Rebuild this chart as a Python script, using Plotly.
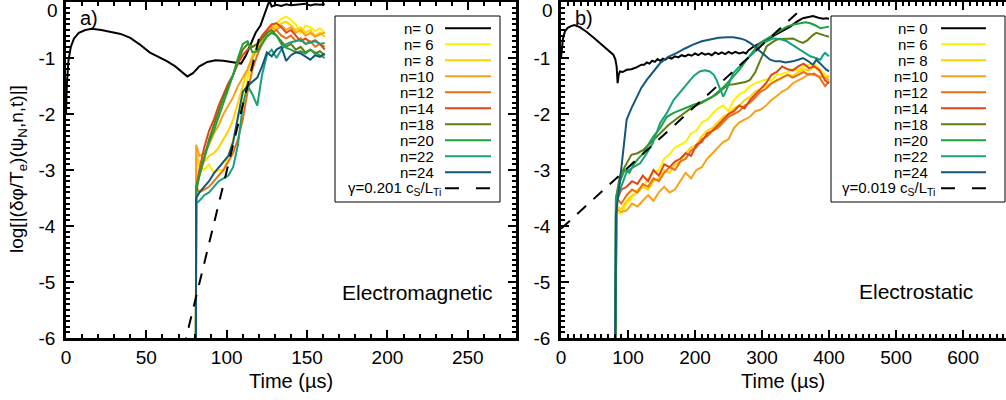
import plotly.graph_objects as go

# ---------------- data ----------------
names = ["n= 0", "n= 6", "n= 8", "n=10", "n=12", "n=14", "n=18", "n=20", "n=22", "n=24"]
colors = ["#000000", "#FFF000", "#FFD200", "#F7A21B", "#EB7012", "#E0461A",
          "#5E7E14", "#1FA23E", "#17A07C", "#14577A"]
gamma_a_label = ("γ=0.201 c<sub><span style='color:black'>S</span></sub>/L"
                 "<sub><span style='color:black'>Ti</span></sub>")
gamma_b_label = ("γ=0.019 c<sub><span style='color:black'>S</span></sub>/L"
                 "<sub><span style='color:black'>Ti</span></sub>")

# panel a (electromagnetic)
a_t_n0 = [0, 0.5, 1.5, 3, 5, 8, 12, 16, 22, 28, 34, 40, 46, 52, 58, 63, 68, 72, 75.5, 79, 83, 88,
          93, 98, 104, 109, 112, 115, 118, 121, 123, 125, 126.5, 128, 131, 134, 137, 140, 143, 146,
          149, 152, 155, 158, 161]
a_v_n0 = [-2.0, -1.5, -1.05, -0.8, -0.65, -0.55, -0.5, -0.48, -0.5, -0.53, -0.57, -0.64, -0.76,
          -0.9, -0.98, -1.06, -1.15, -1.25, -1.33, -1.27, -1.15, -1.07, -1.04, -1.05, -1.08, -1.1,
          -0.95, -0.75, -0.55, -0.42, -0.25, -0.12, 0.02, -0.08, -0.05, -0.07, -0.04, -0.06, -0.05,
          -0.05, -0.03, -0.06, -0.04, -0.05, -0.04]
a_t = [80.8, 81, 83, 86, 89, 92, 95, 98, 101, 104, 107, 110, 113, 116, 119, 122, 125, 128, 131,
       134, 137, 140, 143, 146, 149, 152, 155, 158, 161]
a_v_n6 = [-6.5, -2.85, -2.95, -3.0, -2.9, -3.05, -3.0, -3.0, -2.75, -2.45, -2.1, -1.75, -1.35,
          -1.0, -0.85, -0.7, -0.55, -0.45, -0.38, -0.3, -0.26, -0.32, -0.4, -0.55, -0.42, -0.45,
          -0.52, -0.47, -0.55]
a_v_n8 = [-6.5, -2.7, -2.9, -2.85, -2.75, -2.7, -2.6, -2.45, -2.3, -2.1, -1.8, -1.5, -1.2, -0.95,
          -0.8, -0.65, -0.5, -0.4, -0.45, -0.38, -0.35, -0.42, -0.5, -0.45, -0.55, -0.5, -0.6,
          -0.55, -0.62]
a_v_n10 = [-6.5, -2.55, -2.75, -2.7, -2.55, -2.35, -2.2, -2.0, -1.85, -1.7, -1.5, -1.35, -1.2,
           -1.0, -0.85, -0.7, -0.55, -0.45, -0.5, -0.42, -0.5, -0.45, -0.55, -0.5, -0.6, -0.55,
           -0.62, -0.58, -0.55]
a_v_n12 = [-6.5, -3.3, -3.4, -3.35, -3.3, -3.2, -3.1, -3.0, -2.85, -2.7, -2.45, -2.1, -1.6, -1.2,
           -0.95, -0.75, -0.6, -0.55, -0.5, -0.6, -0.65, -0.6, -0.7, -0.65, -0.75, -0.7, -0.8,
           -0.75, -0.8]
a_v_n14 = [-6.5, -3.3, -3.0, -2.6, -2.3, -2.1, -1.85, -1.65, -1.45, -1.3, -1.1, -0.95, -0.85,
           -0.8, -0.75, -0.6, -0.5, -0.4, -0.38, -0.45, -0.55, -0.5, -0.6, -0.7, -0.65, -0.72,
           -0.68, -0.75, -0.85]
a_v_n18 = [-6.5, -3.4, -3.1, -2.75, -2.45, -2.2, -1.95, -1.7, -1.5, -1.3, -1.05, -0.85, -0.75,
           -0.8, -0.75, -0.65, -0.55, -0.5, -0.6, -0.7, -0.8, -0.75, -0.85, -0.8, -0.9, -0.85,
           -0.92, -0.88, -0.95]
a_v_n20 = [-6.5, -3.3, -3.1, -2.8, -2.5, -2.3, -2.05, -1.8, -1.55, -1.3, -1.0, -0.75, -0.7, -0.9,
           -0.88, -0.75, -0.62, -0.55, -0.6, -0.75, -0.82, -0.85, -0.9, -0.88, -0.92, -0.85, -0.9,
           -0.95, -1.0]
a_v_n22 = [-6.5, -3.6, -3.55, -3.45, -3.4, -3.3, -3.2, -3.15, -3.1, -2.95, -2.55, -1.85, -1.5,
           -1.65, -1.85, -1.3, -0.95, -0.85, -1.0, -0.85, -0.75, -0.72, -0.7, -0.68, -0.75, -0.72,
           -0.7, -0.75, -0.73]
a_v_n24 = [-6.5, -3.5, -3.4, -3.3, -3.2, -3.06, -2.95, -2.85, -2.75, -2.5, -2.05, -1.6, -1.5,
           -1.42, -1.35, -1.15, -0.9, -0.97, -0.85, -0.8, -1.05, -0.95, -0.9, -0.92, -0.98, -1.03,
           -0.95, -0.98, -0.92]
gamma_a_t = [73.0, 120.0]
gamma_a_v = [-6.2, -0.66]

# panel b (electrostatic)
b_t_n0 = [0, 1, 3, 6, 10, 15, 20, 28, 38, 48, 58, 68, 78, 81, 83, 84.5, 86, 88, 92, 98, 105, 112,
          120, 124, 128, 132, 136, 140, 144, 148, 152, 156, 160, 165, 170, 175, 180, 185, 190, 195,
          200, 205, 210, 215, 220, 225, 230, 235, 240, 245, 250, 255, 260, 266, 272, 276, 280,
          287, 295, 305, 315, 322, 330, 342, 352, 361, 368, 376, 384, 391, 396, 400]
b_v_n0 = [-1.0, -0.85, -0.65, -0.52, -0.46, -0.43, -0.41, -0.45, -0.53, -0.63, -0.73, -0.84,
          -0.94, -1.02, -1.15, -1.45, -1.3, -1.24, -1.25, -1.21, -1.2, -1.17, -1.12, -1.12, -1.08,
          -1.1, -1.05, -1.07, -1.02, -1.05, -1.01, -1.03, -0.99, -1.01, -0.97, -0.99, -0.95,
          -0.97, -0.94, -0.96, -0.92, -0.95, -0.91, -0.94, -0.92, -0.95, -0.9, -0.93, -0.9,
          -0.93, -0.89, -0.92, -0.89, -0.92, -0.9, -0.92, -0.86, -0.8, -0.75, -0.68, -0.62, -0.58,
          -0.52, -0.44, -0.35, -0.29, -0.27, -0.25, -0.28, -0.3, -0.29, -0.3]
b_t = [80.8, 83, 90, 98, 106, 114, 122, 130, 138, 146, 154, 162, 170, 178, 186, 194, 202, 210,
       218, 226, 234, 242, 250, 258, 266, 274, 282, 290, 298, 306, 314, 322, 330, 338, 346, 354,
       362, 370, 378, 386, 394, 400]
b_v_n6 = [-6.5, -3.75, -3.78, -3.6, -3.5, -3.35, -3.3, -3.15, -3.05, -3.0, -2.8, -2.72, -2.6,
          -2.55, -2.5, -2.35, -2.3, -2.15, -2.1, -2.0, -1.9, -1.85, -1.95, -1.75, -1.65, -1.6,
          -1.5, -1.45, -1.42, -1.38, -1.4, -1.3, -1.28, -1.25, -1.2, -1.22, -1.15, -1.12, -1.1,
          -1.2, -1.3, -1.35]
b_v_n8 = [-6.5, -3.65, -3.7, -3.55, -3.45, -3.4, -3.3, -3.35, -3.2, -3.15, -3.0, -3.05, -2.9,
          -2.85, -2.7, -2.6, -2.55, -2.4, -2.3, -2.25, -2.15, -2.05, -2.0, -1.9, -1.85, -1.75,
          -1.7, -1.6, -1.55, -1.5, -1.45, -1.4, -1.35, -1.3, -1.32, -1.25, -1.2, -1.22, -1.15,
          -1.25, -1.35, -1.32]
b_v_n10 = [-6.5, -3.7, -3.75, -3.72, -3.6, -3.65, -3.55, -3.45, -3.55, -3.4, -3.3, -3.4, -3.35,
           -3.2, -3.05, -3.15, -3.0, -2.95, -2.8, -2.7, -2.6, -2.5, -2.45, -2.25, -2.15, -2.1,
           -2.05, -1.95, -1.92, -1.85, -1.75, -1.68, -1.6, -1.55, -1.45, -1.4, -1.35, -1.28, -1.3,
           -1.32, -1.35, -1.4]
b_v_n12 = [-6.5, -3.5, -3.6, -3.45, -3.35, -3.4, -3.25, -3.3, -3.15, -3.2, -3.05, -2.95, -3.0,
           -2.85, -2.8, -2.65, -2.6, -2.45, -2.4, -2.3, -2.25, -2.15, -2.05, -2.0, -1.95, -1.85,
           -1.8, -1.7, -1.6, -1.55, -1.45, -1.4, -1.35, -1.3, -1.35, -1.3, -1.25, -1.3, -1.28,
           -1.35, -1.5, -1.42]
b_v_n14 = [-6.5, -3.55, -3.35, -3.3, -3.2, -3.25, -3.1, -3.2, -3.0, -3.1, -2.9, -2.95, -2.85,
           -2.8, -2.7, -2.75, -2.55, -2.5, -2.35, -2.3, -2.2, -2.1, -2.0, -1.95, -1.85, -1.9,
           -1.75, -1.65, -1.55, -1.45, -1.3, -1.25, -1.15, -1.2, -1.22, -1.15, -1.1, -1.18, -1.15,
           -1.22, -1.4, -1.45]
b_t_n18 = [80.8, 82, 88, 95, 105, 114, 123, 135, 148, 160, 173, 185, 197, 210, 222, 232, 242,
           250, 258, 267, 275, 282, 290, 297, 302, 307, 315, 322, 330, 338, 346, 354, 361, 368,
           375, 381, 388, 394, 400]
b_v_n18 = [-6.5, -3.5, -3.1, -2.95, -2.73, -2.7, -2.64, -2.5, -2.34, -2.2, -2.08, -1.98, -1.87,
           -1.8, -1.72, -1.65, -1.55, -1.48, -1.47, -1.45, -1.43, -1.39, -1.25, -1.05, -0.92,
           -0.79, -0.72, -0.67, -0.66, -0.65, -0.65, -0.7, -0.73, -0.68, -0.6, -0.55, -0.57, -0.6,
           -0.62]
b_t_n20 = [80.8, 82, 88, 95, 102, 108, 115, 123, 130, 138, 148, 158, 168, 178, 188, 197, 207,
           217, 225, 232, 240, 248, 257, 267, 277, 287, 297, 307, 317, 327, 337, 347, 357, 365,
           372, 380, 387, 393, 400]
b_v_n20 = [-6.5, -3.5, -3.2, -3.0, -3.05, -2.91, -2.8, -2.7, -2.55, -2.4, -2.25, -2.05, -1.98,
           -1.93, -1.88, -1.84, -1.8, -1.75, -1.7, -1.63, -1.55, -1.45, -1.33, -1.2, -1.03, -0.88,
           -0.73, -0.66, -0.59, -0.52, -0.44, -0.4, -0.38, -0.36, -0.38, -0.42, -0.47, -0.45,
           -0.44]
b_t_n22 = [80.8, 82, 88, 98, 108, 118, 128, 137, 148, 158, 168, 178, 188, 198, 207, 215, 222,
           228, 232, 237, 242, 247, 252, 257, 264, 272, 280, 287, 295, 302, 310, 317, 327, 337,
           347, 357, 365, 372, 380, 387, 391, 394, 400]
b_v_n22 = [-6.5, -3.6, -3.36, -3.03, -2.95, -2.88, -2.7, -2.52, -2.16, -1.98, -1.75, -1.6, -1.45,
           -1.32, -1.24, -1.22, -1.24, -1.3, -1.39, -1.55, -1.69, -1.57, -1.4, -1.27, -1.18, -1.09,
           -1.0, -0.91, -0.82, -0.73, -0.68, -0.65, -0.66, -0.7, -0.78, -0.85, -0.92, -0.97, -1.0,
           -1.03, -0.95, -0.91, -0.97]
b_t_n24 = [80.8, 82, 86, 90.5, 94, 98, 105, 113, 120, 128, 138, 148, 160, 173, 185, 197, 210,
           222, 235, 247, 257, 267, 275, 282, 290, 297, 305, 312, 320, 327, 335, 346, 354, 361,
           368, 376, 381, 386, 391, 395, 400]
b_v_n24 = [-6.5, -3.8, -3.4, -2.94, -2.5, -2.1, -1.9, -1.69, -1.53, -1.39, -1.23, -1.09, -0.98,
           -0.91, -0.83, -0.76, -0.7, -0.67, -0.64, -0.63, -0.63, -0.65, -0.68, -0.73, -0.8,
           -0.88, -0.96, -1.03, -1.06, -1.06, -1.08, -1.06, -1.03, -1.0, -1.05, -1.12, -1.03,
           -1.1, -1.15, -1.2, -1.24]
gamma_b_t = [0.0, 352.0]
gamma_b_v = [-4.05, -0.2]

x_ticks_a = [0, 50, 100, 150, 200, 250]
x_ticks_b = [0, 100, 200, 300, 400, 500, 600]
y_ticks = [0, -1, -2, -3, -4, -5, -6]
y_ticktext = ["", "-1", "-2", "-3", "-4", "-5", "-6"]   # the "0" is drawn just below the top edge
y_top_label = "0"

# ---------------- geometry helpers ----------------
W, H = 1006, 400
MT, MB = 2, 62
PH = H - MT - MB


def px(x):
    return x / W


def py(y):
    return (H - MB - y) / PH


FONT = "Liberation Sans, Arial, Helvetica, sans-serif"

fig = go.Figure()

a_series = [(a_t_n0, a_v_n0), (a_t, a_v_n6), (a_t, a_v_n8), (a_t, a_v_n10), (a_t, a_v_n12),
            (a_t, a_v_n14), (a_t, a_v_n18), (a_t, a_v_n20), (a_t, a_v_n22), (a_t, a_v_n24)]
b_series = [(b_t_n0, b_v_n0), (b_t, b_v_n6), (b_t, b_v_n8), (b_t, b_v_n10), (b_t, b_v_n12),
            (b_t, b_v_n14), (b_t_n18, b_v_n18), (b_t_n20, b_v_n20), (b_t_n22, b_v_n22),
            (b_t_n24, b_v_n24)]

for (t, v), nm, c in zip(a_series, names, colors):
    fig.add_trace(go.Scatter(x=t, y=v, mode="lines", name=nm, showlegend=False,
                             line=dict(color=c, width=2), xaxis="x", yaxis="y"))
fig.add_trace(go.Scatter(x=gamma_a_t, y=gamma_a_v, mode="lines", showlegend=False,
                         line=dict(color="black", width=2, dash="12px,10px"), xaxis="x", yaxis="y"))
for (t, v), nm, c in zip(b_series, names, colors):
    fig.add_trace(go.Scatter(x=t, y=v, mode="lines", name=nm, showlegend=False,
                             line=dict(color=c, width=2), xaxis="x2", yaxis="y2"))
fig.add_trace(go.Scatter(x=gamma_b_t, y=gamma_b_v, mode="lines", showlegend=False,
                         line=dict(color="black", width=2, dash="12px,10px"), xaxis="x2", yaxis="y2"))

common = dict(showline=True, linecolor="black", linewidth=2.5, ticks="inside", ticklen=8,
              tickwidth=2, tickcolor="black", showgrid=False, zeroline=False,
              tickfont=dict(family=FONT, size=19, color="black"), automargin=False,
              ticklabeloverflow="allow",
              minor=dict(ticks="inside", ticklen=4, tickwidth=1.5, tickcolor="black",
                         showgrid=False))

fig.update_layout(
    width=W, height=H, margin=dict(l=0, r=0, t=MT, b=MB),
    paper_bgcolor="white", plot_bgcolor="white", showlegend=False,
    xaxis=dict(domain=[px(66), px(516)], range=[0, 280], tickvals=x_ticks_a, mirror="allticks",
               anchor="y", **{**common, "minor": {**common["minor"], "dtick": 10}}),
    yaxis=dict(domain=[0, 1], range=[-6, 0], tickvals=y_ticks, ticktext=y_ticktext,
               mirror="allticks", anchor="x", ticklabelstandoff=4,
               **{**common, "minor": {**common["minor"], "dtick": 0.1}}),
    xaxis2=dict(domain=[px(561), 1], range=[0, 664], tickvals=x_ticks_b, mirror="allticks",
                anchor="y2", **{**common, "minor": {**common["minor"], "dtick": 10}}),
    yaxis2=dict(domain=[0, 1], range=[-6, 0], tickvals=y_ticks, ticktext=y_ticktext,
                mirror=False, anchor="x2", ticklabelstandoff=4,
                **{**common, "minor": {**common["minor"], "dtick": 0.1}}),
)

ann = []
shapes = []
# top "0" tick labels, kept inside the picture
for xr, yr in (("x domain", "y"), ("x2 domain", "y2")):
    ann.append(dict(text=y_top_label, x=0, y=y_ticks[0], xref=xr, yref=yr, xshift=-6,
                    yshift=-8, xanchor="right", yanchor="middle", showarrow=False,
                    font=dict(family=FONT, size=19, color="black")))
# axis titles
ann.append(dict(text="log[|(δφ/T<sub>e</sub>)(ψ<sub>N</sub>,n,t)|]", textangle=-90,
                x=px(18), y=py(169), xref="paper", yref="paper", showarrow=False,
                xanchor="center", yanchor="middle", font=dict(family=FONT, size=19, color="black")))
for cx in (291, 783):
    ann.append(dict(text="Time (µs)", x=px(cx), y=py(381), xref="paper", yref="paper",
                    showarrow=False, xanchor="center", yanchor="middle",
                    font=dict(family=FONT, size=20, color="black")))
# panel labels
ann.append(dict(text="a)", x=px(78), y=py(18), xref="paper", yref="paper", showarrow=False,
                xanchor="left", yanchor="middle", font=dict(family=FONT, size=20, color="black")))
ann.append(dict(text="b)", x=px(573), y=py(18), xref="paper", yref="paper", showarrow=False,
                xanchor="left", yanchor="middle", font=dict(family=FONT, size=20, color="black")))
ann.append(dict(text="Electromagnetic", x=px(340), y=py(292), xref="paper", yref="paper",
                showarrow=False, xanchor="left", yanchor="middle",
                font=dict(family=FONT, size=21, color="black")))
ann.append(dict(text="Electrostatic", x=px(857), y=py(291), xref="paper", yref="paper",
                showarrow=False, xanchor="left", yanchor="middle",
                font=dict(family=FONT, size=21, color="black")))

# legends (text left of line sample, as in the original)
LEG_Y0, LEG_DY = 28.3, 16.0
for (bx0, bx1, txt_r, g_txt_r, l0, l1, glab) in [
        (335, 500, 436, 443, 445, 491, gamma_a_label),
        (831, 1005, 930, 937, 941, 986, gamma_b_label)]:
    shapes.append(dict(type="rect", xref="paper", yref="paper", x0=px(bx0), x1=px(bx1),
                       y0=py(202), y1=py(16), fillcolor="white",
                       line=dict(color="black", width=1), layer="above"))
    for i, (nm, c) in enumerate(zip(names, colors)):
        yy = LEG_Y0 + LEG_DY * i
        shapes.append(dict(type="line", xref="paper", yref="paper", x0=px(l0), x1=px(l1),
                           y0=py(yy), y1=py(yy), line=dict(color=c, width=2), layer="above"))
        ann.append(dict(text=nm, x=px(txt_r), y=py(yy), xref="paper", yref="paper",
                        showarrow=False, xanchor="right", yanchor="middle",
                        font=dict(family=FONT, size=15, color="black")))
    yy = LEG_Y0 + LEG_DY * 10
    shapes.append(dict(type="line", xref="paper", yref="paper", x0=px(l0), x1=px(l1),
                       y0=py(yy), y1=py(yy),
                       line=dict(color="black", width=2, dash="14px,17px"), layer="above"))
    ann.append(dict(text=glab, x=px(g_txt_r), y=py(yy), xref="paper", yref="paper",
                    showarrow=False, xanchor="right", yanchor="middle",
                    font=dict(family=FONT, size=15, color="black")))

fig.update_layout(annotations=ann, shapes=shapes)
fig.write_html("out.html")
